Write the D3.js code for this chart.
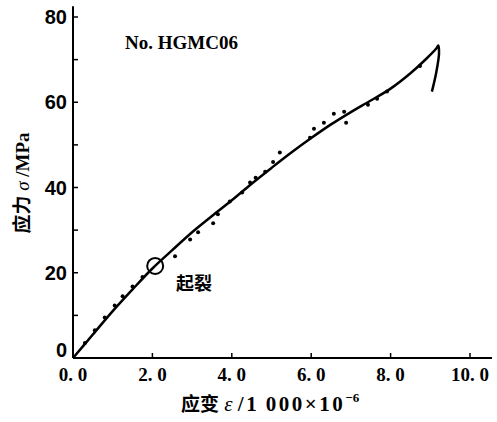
<!DOCTYPE html>
<html>
<head>
<meta charset="utf-8">
<script src="https://cdn.jsdelivr.net/npm/d3@7"></script>
<style>
  body { margin: 0; background: #fff; }
</style>
</head>
<body>
<script>
// fitted curve (strain, stress), then the hook after peak
const curveStrain = [0, 0.5, 1.0, 1.5, 2.0, 2.5, 3.0, 3.5, 4.0, 4.5, 5.0, 5.5, 6.0, 6.5, 7.0, 7.5, 8.0, 8.5, 8.9, 9.15, 9.2, 9.22, 9.15, 9.04];
const curveStress = [0, 5.5, 11.0, 16.1, 21.0, 25.3, 29.5, 33.3, 37.0, 40.9, 44.6, 48.2, 51.6, 54.8, 57.7, 60.4, 63.2, 66.8, 70.2, 72.6, 73.3, 71.5, 67, 62.5];

// measured points
const dotStrain = [0.3, 0.55, 0.8, 1.05, 1.25, 1.5, 1.75, 2.57, 2.95, 3.15, 3.53, 3.65, 3.95, 4.26, 4.46, 4.6, 4.84, 5.04, 5.21, 5.97, 6.07, 6.32, 6.57, 6.83, 6.88, 7.43, 7.66, 7.91, 8.74];
const dotStress = [3.5, 6.5, 9.5, 12.3, 14.5, 16.8, 19.0, 23.9, 27.8, 29.5, 31.6, 33.7, 36.7, 38.8, 41.2, 42.3, 43.7, 46.0, 48.2, 51.7, 53.8, 55.2, 57.3, 57.8, 55.2, 59.4, 60.8, 62.5, 68.5];

const xTicks = [0, 2, 4, 6, 8, 10];
const xTickLabels = ["0. 0", "2. 0", "4. 0", "6. 0", "8. 0", "10. 0"];
const yTicks = [0, 20, 40, 60, 80];
const yMinor = [10, 30, 50, 70];

const crack = { strain: 2.07, stress: 21.6, label: "起裂" };

const width = 497, height = 422;
const svg = d3.select("body").append("svg")
  .attr("width", width).attr("height", height);

const x = d3.scaleLinear().domain([0, 10]).range([73, 470]);
const y = d3.scaleLinear().domain([0, 80]).range([358, 17]);

// axes lines
svg.append("line")
  .attr("x1", x(0)).attr("x2", 492)
  .attr("y1", y(0)).attr("y2", y(0))
  .attr("stroke", "#000").attr("stroke-width", 2);
svg.append("line")
  .attr("x1", x(0)).attr("x2", x(0))
  .attr("y1", y(0)).attr("y2", y(82.5))
  .attr("stroke", "#000").attr("stroke-width", 2);

// x ticks
svg.selectAll(".xt").data(xTicks.slice(1)).enter().append("line")
  .attr("x1", d => x(d)).attr("x2", d => x(d))
  .attr("y1", y(0)).attr("y2", y(0) - 5)
  .attr("stroke", "#000").attr("stroke-width", 1.5);
svg.selectAll(".xl").data(xTicks).enter().append("text")
  .attr("x", d => x(d)).attr("y", 381)
  .attr("text-anchor", "middle")
  .attr("font-family", "Liberation Serif, serif")
  .attr("font-weight", "bold").attr("font-size", 19)
  .text((d, i) => xTickLabels[i]);

// y ticks
svg.selectAll(".yt").data(yTicks.concat(yMinor)).enter().append("line")
  .attr("x1", x(0)).attr("x2", x(0) + 5)
  .attr("y1", d => y(d)).attr("y2", d => y(d))
  .attr("stroke", "#000").attr("stroke-width", 1.5);
svg.selectAll(".yl").data(yTicks).enter().append("text")
  .attr("x", 67).attr("y", d => Math.min(y(d) + 7, 357))
  .attr("text-anchor", "end")
  .attr("font-family", "Liberation Sans Narrow, Liberation Sans, sans-serif")
  .attr("font-weight", "bold").attr("font-size", 20)
  .text(d => d);

// curve
const line = d3.line()
  .x((d, i) => x(curveStrain[i]))
  .y((d, i) => y(curveStress[i]))
  .curve(d3.curveCatmullRom);
svg.append("path")
  .datum(curveStrain)
  .attr("d", line)
  .attr("fill", "none").attr("stroke", "#000").attr("stroke-width", 2.5);

// dots
svg.selectAll(".dot").data(dotStrain).enter().append("circle")
  .attr("cx", d => x(d))
  .attr("cy", (d, i) => y(dotStress[i]))
  .attr("r", 2).attr("fill", "#000");

// crack initiation marker
svg.append("circle")
  .attr("cx", x(crack.strain)).attr("cy", y(crack.stress))
  .attr("r", 8).attr("fill", "none")
  .attr("stroke", "#000").attr("stroke-width", 2);
svg.append("text")
  .attr("x", 176).attr("y", 290)
  .attr("font-family", "Noto Sans CJK SC, sans-serif")
  .attr("font-weight", "bold").attr("font-size", 18)
  .text(crack.label);

// title
svg.append("text")
  .attr("x", 125).attr("y", 49)
  .attr("font-family", "Liberation Serif, serif")
  .attr("font-weight", "bold").attr("font-size", 19)
  .text("No. HGMC06");

// axis titles
const xt = svg.append("text")
  .attr("x", 181).attr("y", 411)
  .attr("font-family", "Liberation Serif, Noto Sans CJK SC, serif")
  .attr("font-weight", "bold").attr("font-size", 21);
xt.append("tspan").attr("font-family", "Noto Sans CJK SC, sans-serif").attr("font-size", 19).text("应变");
xt.append("tspan").attr("font-style", "italic").attr("font-weight", "normal").text(" ε ");
xt.append("tspan").attr("letter-spacing", 2.5).text("/1\u2009000×10");
xt.append("tspan").attr("font-size", 13).attr("dy", -9).text("−6");

const yt = svg.append("text")
  .attr("transform", "translate(29,183) rotate(-90)")
  .attr("text-anchor", "middle")
  .attr("font-family", "Liberation Serif, serif")
  .attr("font-weight", "bold").attr("font-size", 19);
yt.append("tspan").attr("font-family", "Noto Sans CJK SC, sans-serif").text("应力");
yt.append("tspan").attr("font-style", "italic").attr("font-weight", "normal").text(" σ ");
yt.append("tspan").text("/MPa");
</script>
</body>
</html>
